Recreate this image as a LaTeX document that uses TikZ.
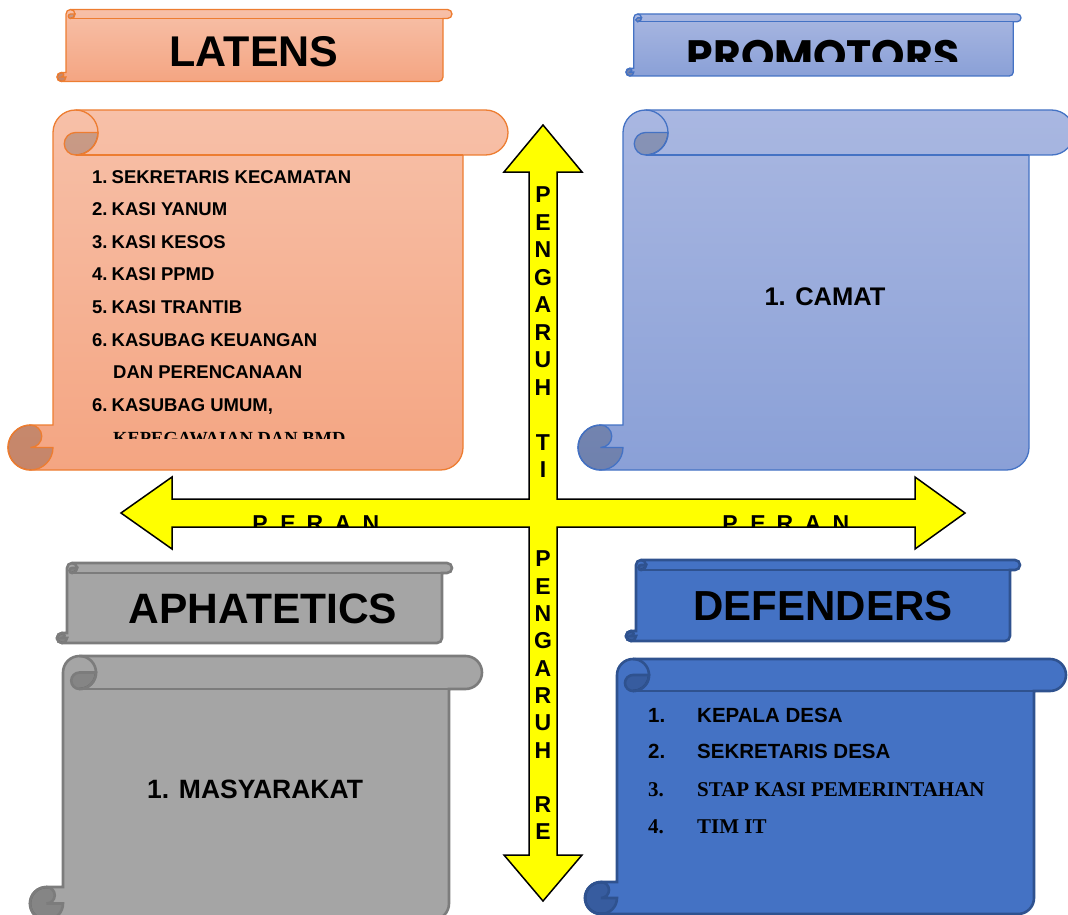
\documentclass[tikz,border=0pt]{standalone}
\usepackage{fontspec}
\setmainfont{Liberation Sans}
\newfontfamily\serifbf{Liberation Serif}
\newfontfamily\popfont{Poppins}
\definecolor{latTop}{RGB}{247,192,168}
\definecolor{latBot}{RGB}{244,165,130}
\definecolor{latStroke}{RGB}{237,125,49}
\definecolor{proTop}{RGB}{169,183,225}
\definecolor{proBot}{RGB}{138,160,215}
\definecolor{proStroke}{RGB}{68,114,196}
\definecolor{aphFill}{RGB}{165,165,165}
\definecolor{aphStroke}{RGB}{124,124,124}
\definecolor{defFill}{RGB}{68,114,196}
\definecolor{defStroke}{RGB}{47,82,143}
\definecolor{arrowYellow}{RGB}{255,255,0}
\tikzset{
  lat main/.style={draw=latStroke, line width=1.3, top color=latTop, bottom color=latBot},
  lat line/.style={draw=latStroke, line width=1.3},
  lat dark/.style={draw=latStroke, line width=1.3, fill=black, fill opacity=0.19},
  pro main/.style={draw=proStroke, line width=1.3, top color=proTop, bottom color=proBot},
  pro line/.style={draw=proStroke, line width=1.3},
  pro dark/.style={draw=proStroke, line width=1.3, fill=black, fill opacity=0.19},
  aph main/.style={draw=aphStroke, line width=2.6, fill=aphFill},
  aph line/.style={draw=aphStroke, line width=2.6},
  aph dark/.style={draw=aphStroke, line width=2.6, fill=black, fill opacity=0.19},
  def main/.style={draw=defStroke, line width=2.6, fill=defFill},
  def line/.style={draw=defStroke, line width=2.6},
  def dark/.style={draw=defStroke, line width=2.6, fill=black, fill opacity=0.19},
  title/.style={inner sep=0, font=\bfseries\fontsize{43}{48}\selectfont},
  lst/.style={inner sep=0, anchor=base west, font=\bfseries\fontsize{18.5}{22}\selectfont},
  dlst/.style={inner sep=0, anchor=base west, font=\bfseries\fontsize{20.5}{24}\selectfont},
  dlsts/.style={inner sep=0, anchor=base west, font=\serifbf\bfseries\fontsize{21}{24}\selectfont},
  big/.style={inner sep=0, anchor=base, font=\bfseries\fontsize{25.5}{30}\selectfont},
  vletter/.style={inner sep=0, font=\bfseries\fontsize{23}{26}\selectfont},
  crossarrow/.style={fill=arrowYellow, draw=black, line width=1.5, line join=miter},
}
% scroll shape: #1 x0, #2 y0, #3 w, #4 h, #5 c, #6 style prefix
\newcommand{\scrollshp}[6]{%
  \pgfmathsetmacro\sXa{#1}%
  \pgfmathsetmacro\sYa{#2}%
  \pgfmathsetmacro\sR{#1+#3}%
  \pgfmathsetmacro\sB{#2+#4}%
  \pgfmathsetmacro\sc{#5}%
  \pgfmathsetmacro\sch{#5/2}%
  \pgfmathsetmacro\scq{#5/4}%
  \path[#6 main] (\sXa+\sch,\sB) arc[start angle=90,end angle=270,radius=\sch]
     -- (\sXa+\sc,\sB-\sc) -- (\sXa+\sc,\sYa+\sch)
     arc[start angle=180,end angle=270,radius=\sch]
     -- (\sR-\sch,\sYa) arc[start angle=270,end angle=450,radius=\sch]
     -- (\sR-\sc,\sYa+\sc) -- (\sR-\sc,\sB-\sch)
     arc[start angle=0,end angle=90,radius=\sch] -- cycle;
  \path[#6 line] (\sXa+1.5*\sc,\sYa+\sc) -- (\sR-\sc,\sYa+\sc);
  \path[#6 line] (\sXa+1.5*\sc,\sYa) arc[start angle=270,end angle=450,radius=\sch];
  \path[#6 dark] (\sXa+1.5*\sc,\sYa+\sch) -- (\sXa+2*\sc,\sYa+\sch)
     arc[start angle=0,end angle=90,radius=\sch]
     arc[start angle=90,end angle=270,radius=\scq] -- cycle;
  \path[#6 dark] (\sXa+\sch,\sB-\sc) arc[start angle=270,end angle=450,radius=\scq]
     -- (\sXa+\sc,\sB-\sch) arc[start angle=0,end angle=270,radius=\sch] -- cycle;
}
\begin{document}
\begin{tikzpicture}[x=1pt,y=-1pt]
\useasboundingbox (0,0) rectangle (1068,915);
\clip (0,0) rectangle (1068,915);

% ---------- LATENS ----------
\scrollshp{57}{9.5}{395}{72}{9}{lat}
\node[title, anchor=base] (latT) at (254,67) {LATENS};
\scrollshp{8}{110}{500}{360}{45}{lat}
\node[lst] (l1) at (92,183.5) {1.\kern0.22em SEKRETARIS KECAMATAN};
\node[lst] (l2) at (92,215.5) {2.\kern0.22em KASI YANUM};
\node[lst] (l3) at (92,248.5) {3.\kern0.22em KASI KESOS};
\node[lst] (l4) at (92,280.5) {4.\kern0.22em KASI PPMD};
\node[lst] (l5) at (92,313.5) {5.\kern0.22em KASI TRANTIB};
\node[lst] (l6) at (92,346) {6.\kern0.22em KASUBAG KEUANGAN};
\node[lst] (l7) at (113,378.5) {DAN PERENCANAAN};
\node[lst] (l8) at (92,411) {6.\kern0.22em KASUBAG UMUM,};
\begin{scope}
  \clip (90,420) rectangle (420,438);
  \node[lst, font=\serifbf\bfseries\fontsize{18.5}{22}\selectfont] (l9) at (113,444) {KEPEGAWAIAN DAN BMD};
\end{scope}

% ---------- PROMOTORS ----------
\scrollshp{626}{14}{395}{62}{7.75}{pro}
\begin{scope}
  \clip (640,25) rectangle (1005,62);
  \node[inner sep=0, anchor=base, font=\popfont\bfseries\fontsize{42.5}{48}\selectfont] (proT) at (823,70.5) {PROMOTORS};
\end{scope}
\scrollshp{578}{110}{496}{360}{45}{pro}
\node[big] (camat) at (825,305) {1. CAMAT};

% ---------- APHATETICS ----------
\scrollshp{57}{563}{395}{80}{10}{aph}
\node[title, anchor=base, font=\bfseries\fontsize{42.5}{48}\selectfont] (aphT) at (263,623) {APHATETICS};
\scrollshp{30}{656}{452}{264}{33}{aph}
\node[big, font=\bfseries\fontsize{26.5}{30}\selectfont] (masy) at (255,798) {1. MASYARAKAT};

% ---------- DEFENDERS ----------
\scrollshp{626}{560}{394}{81}{10}{def}
\node[title, anchor=base, font=\bfseries\fontsize{42}{48}\selectfont] (defT) at (823,620) {DEFENDERS};
\scrollshp{585}{659}{481}{255}{32}{def}
\node[dlst] (d1n) at (648,722.5) {1.};
\node[dlst] (d1) at (697,722.5) {KEPALA DESA};
\node[dlst] (d2n) at (648,758.5) {2.};
\node[dlst] (d2) at (697,758.5) {SEKRETARIS DESA};
\node[dlsts] (d3n) at (648,796.5) {3.};
\node[dlsts] (d3) at (697,796.5) {STAP KASI PEMERINTAHAN};
\node[dlsts] (d4n) at (648,833) {4.};
\node[dlsts] (d4) at (697,833) {TIM IT};

% ---------- CROSS ARROW ----------
\path[crossarrow] (543,125) -- (582,172) -- (557,172) -- (557,499) -- (915,499) -- (915,477)
  -- (965,513) -- (915,549) -- (915,527) -- (557,527) -- (557,855) -- (582,855)
  -- (543,901) -- (504,855) -- (529,855) -- (529,527) -- (172,527) -- (172,549)
  -- (121,513) -- (172,477) -- (172,499) -- (529,499) -- (529,172) -- (504,172) -- cycle;

% vertical text, upper
\foreach \ch/\y [count=\i] in {P/195,E/222.5,N/250,G/277.5,A/305,R/332.5,U/360,H/387.5,T/442.5,I/470}
  \node[vletter] (up\i) at (543,\y) {\ch};
% vertical text, lower
\foreach \ch/\y [count=\i] in {P/559,E/586.3,N/613.6,G/640.9,A/668.2,R/695.5,U/722.8,H/750.1,R/804.7,E/832}
  \node[vletter] (lo\i) at (543,\y) {\ch};

% PERAN labels (clipped by the shaft)
\begin{scope}
  \clip (200,505) rectangle (900,526.5);
  \foreach \ch/\x [count=\i] in {P/260,E/288,R/315,A/343,N/371}
    \node[vletter, anchor=base] (pl\i) at (\x,531.5) {\ch};
  \foreach \ch/\x [count=\i] in {P/730,E/758,R/785,A/813,N/841}
    \node[vletter, anchor=base] (pr\i) at (\x,531.5) {\ch};
\end{scope}
\end{tikzpicture}
\end{document}
